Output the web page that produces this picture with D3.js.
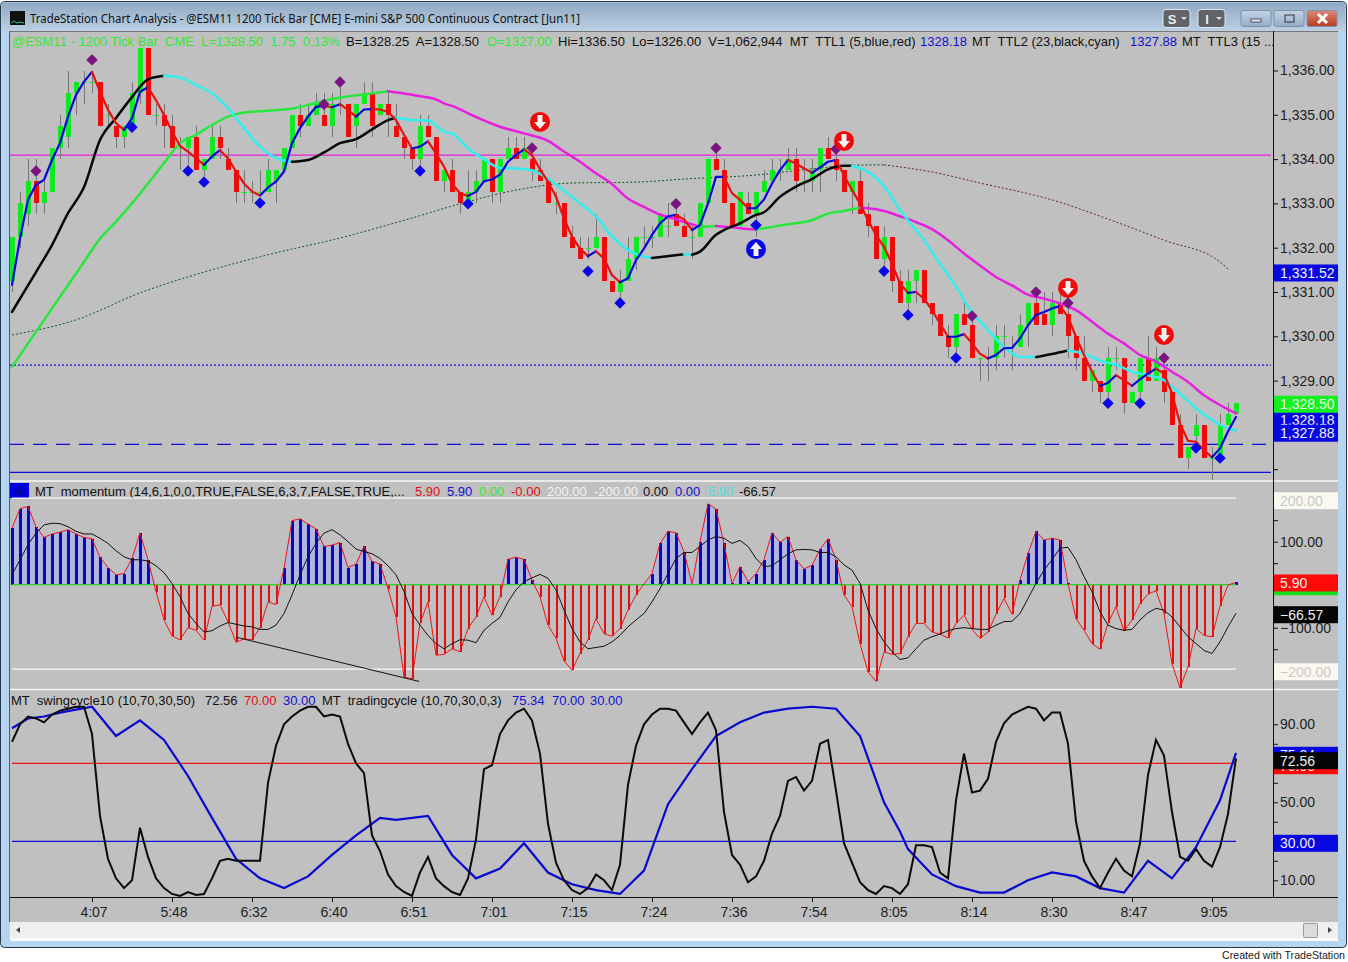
<!DOCTYPE html>
<html>
<head>
<meta charset="utf-8">
<script src="https://d3js.org/d3.v7.min.js"></script>
<style>
body { margin: 0; background: #fff; }
svg { display: block; }
text { font-family: "Liberation Sans", Arial, sans-serif; }
</style>
</head>
<body>
<svg width="1348" height="962"></svg>
<script>

// price bars, one entry per bar
var opens = [1331.25,1332.25,1332.75,1333.5,1333,1333.25,1334.25,1334.5,1335.5,1335.75,1335.75,1335.75,1335,1334.75,1334.5,1334.75,1335.5,1336.5,1335,1335,1334.75,1334.25,1334.25,1334.5,1333.75,1334,1334.5,1334,1333.75,1333.25,1333.25,1333.25,1333.25,1333.5,1333.75,1334.25,1335,1334.75,1335,1335,1334.75,1335.25,1335.25,1334.75,1335.25,1335.5,1335,1335.25,1334.75,1334.5,1334.25,1334,1334.75,1334.5,1333.5,
  1333.75,1333.25,1333,1333.25,1333.5,1334,1333.25,1334,1334.25,1334,1334,1333.75,1333.5,1333,1333,1332.25,1332,1332,1332,1332.25,1331.25,1331,1331.25,1331.75,1332.25,1332.25,1332.25,1332.5,1332.75,1332.5,1332.25,1332.25,1333,1334,1333.75,1333,1332.5,1333,1332.75,1333.25,1333.5,1333.75,1333.75,1334,1333.5,1333.5,1333.75,1334.25,1334,1333.75,1333.25,1333.5,1332.75,1332.5,1331.75,1332.25,
  1331.25,1330.75,1331.25,1331.5,1330.75,1330.5,1330,1329.75,1330.5,1330.25,1329.5,1329.5,1329.5,1330,1329.75,1329.75,1330.25,1330.75,1330.5,1330.25,1330.75,1330.5,1330,1329.5,1329,1329,1328.75,1329.5,1329.5,1328.5,1328.75,1329.5,1329,1329.25,1328.75,1328,1327.25,1327.75,1328,1327.25,1327.25,1328,1328.25];
var closes = [1332.25,1333,1333.5,1333,1333.25,1334.25,1334.75,1335.5,1335.75,1335.75,1335.75,1334.75,1335,1334.5,1334.75,1335.5,1336.5,1335,1335,1334.75,1334.25,1334.25,1334.5,1333.75,1334,1334.5,1334.25,1333.75,1333.25,1333.25,1333.25,1333.25,1333.75,1333.75,1334.25,1335,1334.75,1335,1335.25,1334.75,1335.25,1335.25,1334.5,1335.25,1335.5,1334.75,1335.25,1335,1334.5,1334.25,1334,1334.75,1334.5,1333.5,1333.75,
  1333.25,1333,1333.25,1333.5,1334,1333.25,1334,1334.25,1334,1334.25,1333.75,1333.5,1333,1333,1332.25,1332,1331.75,1332,1332.25,1331.25,1331,1331.25,1331.75,1332.25,1332.25,1332.25,1332.75,1332.5,1332.5,1332.25,1332.25,1333,1334,1333.75,1333,1332.5,1333.25,1332.75,1333.25,1333.5,1333.75,1333.75,1334,1333.5,1333.5,1333.75,1334.25,1334,1333.75,1333.25,1333.5,1332.75,1332.5,1331.75,1332.25,1331.25,
  1330.75,1331.25,1331.5,1330.75,1330.5,1330,1329.75,1330.5,1330.25,1329.5,1329.5,1329.5,1330,1330,1329.75,1330.25,1330.75,1330.25,1330.25,1330.75,1330.5,1330,1329.5,1329,1329.25,1328.75,1329.5,1329.5,1328.5,1328.75,1329.5,1329,1329.5,1328.75,1328,1327.25,1327.5,1328,1327.25,1327.25,1328,1328.25,1328.5];
var highs = [1332.25,1333.25,1334,1334,1333.5,1334.25,1335,1336,1335.75,1336,1336,1335.75,1335.25,1334.75,1334.75,1335.75,1336.5,1336.5,1335.25,1335.25,1335,1334.5,1334.5,1334.75,1334,1334.75,1334.75,1334.25,1333.75,1333.75,1333.5,1333.75,1334,1333.75,1334.25,1335,1335.25,1335.25,1335.5,1335.5,1335.5,1335.75,1335.25,1335.25,1335.75,1335.75,1335.25,1335.5,1335.25,1334.5,1334.25,1335,1335,1334.5,1333.75,
  1334,1333.25,1333.75,1333.75,1334,1334,1334,1334.5,1334.5,1334.5,1334.25,1334,1333.5,1333.25,1333,1332.5,1332.25,1332.25,1332.75,1332.25,1331.25,1331.5,1332.25,1332.25,1332.5,1332.5,1332.75,1333,1333,1332.75,1332.5,1333,1334,1334.25,1334,1333,1333.25,1333.25,1333.25,1333.75,1334,1334,1334.25,1334.25,1334,1334,1334.25,1334.5,1334.25,1333.75,1333.5,1333.75,1333,1332.5,1332.5,1332.25,
  1331.5,1331.5,1331.5,1331.5,1330.75,1330.5,1330.25,1330.5,1330.75,1330.5,1329.5,1329.75,1330.25,1330.25,1330,1330.5,1330.75,1331,1331,1331,1331,1330.75,1330,1330,1329.25,1329,1329.75,1329.75,1329.5,1328.75,1329.5,1330,1329.75,1329.5,1328.75,1328.25,1327.5,1328.25,1328,1327.5,1328.25,1328.5,1328.5];
var lows = [1331,1332,1332.5,1332.75,1332.75,1333.25,1334,1334.25,1335,1335.25,1335.5,1334.75,1334.75,1334.25,1334.25,1334.75,1335.25,1335,1334.75,1334.25,1334.25,1333.75,1333.75,1333.75,1333.5,1334,1334,1333.75,1333,1333,1333,1333.25,1333.25,1333,1333.75,1334.25,1334.5,1334.75,1335,1334.75,1334.5,1335,1334.5,1334.25,1335.25,1334.5,1335,1334.5,1334.5,1334,1333.75,1333.75,1334.5,1333.5,1333.25,
  1333.25,1332.75,1333,1333,1333.5,1333,1333,1334,1334,1334,1333.5,1333.5,1333,1332.75,1332.25,1332,1331.75,1331.75,1332,1331.25,1331,1330.75,1331.25,1331.5,1332,1332,1332.25,1332.25,1332.5,1332.25,1331.75,1332.25,1333,1333.75,1333,1332.5,1332.5,1332.75,1332.25,1333.25,1333.5,1333.5,1333.75,1333.25,1333.25,1333.25,1333.25,1334,1333.5,1333.25,1332.75,1332.75,1332.25,1331.75,1331.5,1331,
  1330.75,1330.5,1330.75,1330.75,1330.25,1330,1329.5,1329.5,1330.25,1329.5,1329,1329,1329.25,1329.5,1329.25,1329.75,1329.75,1330.25,1330.25,1330,1330.5,1329.5,1329.25,1329,1328.75,1328.5,1328.5,1329.25,1328.25,1328.5,1328.5,1329,1329,1328.5,1328,1327.25,1327,1327.5,1327.25,1326.75,1327.25,1328,1328.25];

// TTL1 (5, blue, red), every bar
var ttl1 = [1331.16,1332.21,1333.08,1333.42,1333.53,1333.98,1334.36,1334.96,1335.45,1335.75,1335.97,1335.52,1335.11,1334.81,1334.66,1334.92,1335.52,1335.62,1335.33,1335,1334.62,1334.3,1334.17,1334.02,1333.87,1334.06,1334.2,1334.02,1333.72,1333.45,1333.27,1333.18,1333.36,1333.49,1333.72,1334.36,1334.7,1334.96,1335.18,1335.2,1335.17,1335.24,1335.11,1334.96,1335.12,1335.13,1335.12,1335.07,1334.88,1334.55,1334.24,1334.28,1334.4,1334.13,1333.83,
  1333.45,1333.23,1333.17,1333.26,1333.5,1333.54,1333.65,1333.94,1334.09,1334.22,1334.09,1333.77,1333.49,1333.15,1332.66,1332.25,1331.98,1331.81,1331.92,1331.76,1331.38,1331.22,1331.31,1331.72,1331.98,1332.29,1332.55,1332.71,1332.74,1332.64,1332.4,1332.51,1333,1333.6,1333.6,1333.23,1333.08,1332.89,1332.89,1333.09,1333.45,1333.75,1333.98,1333.9,1333.79,1333.69,1333.81,1333.94,1333.98,1333.64,1333.3,1333,1332.62,1332.29,1332.02,1331.64,
  1331.19,1330.98,1331,1330.85,1330.59,1330.29,1329.99,1329.99,1330.05,1329.84,1329.61,1329.5,1329.58,1329.73,1329.74,1329.95,1330.25,1330.48,1330.55,1330.63,1330.68,1330.44,1329.99,1329.58,1329.2,1328.88,1328.95,1329.12,1329.01,1328.88,1329.03,1329.16,1329.27,1329.16,1328.71,1328.03,1327.64,1327.62,1327.43,1327.27,1327.47,1327.85,1328.18];

// TTL2 (23, black, cyan), read at these bars
var ttl2Bars = [0,3,5,7,9,11,13,15,17,19,21,23,25,27,29,31,33,35,37,39,41,43,45,47,48,50,52,54,55,57,59,61,63,65,67,69,71,73,75,77,79,80,84,85,86,88,89,91,93,94,96,98,100,102,104,105,107,109,111,114,116,118,120,122,124,126,128,130,132,134,136,138,140,142,144,146,148,150,152,153];
var ttl2Values = [1330.55,1331.45,1332.06,1332.78,1333.37,1334.43,1334.93,1335.4,1335.8,1335.88,1335.84,1335.67,1335.48,1335.15,1334.7,1334.28,1334.02,1333.94,1333.98,1334.15,1334.36,1334.45,1334.67,1334.88,1334.94,1334.88,1334.87,1334.62,1334.58,1334.24,1334,1333.8,1333.79,1333.75,1333.56,1333.29,1333,1332.7,1332.26,1331.95,1331.8,1331.77,1331.85,1331.84,1331.91,1332.29,1332.4,1332.55,1332.74,1332.8,1333.15,1333.38,1333.55,1333.77,1333.85,1333.85,1333.71,1333.39,1332.85,1332.17,1331.64,1331.12,1330.55,1330.14,1329.76,1329.54,1329.53,1329.6,1329.68,1329.61,1329.45,1329.36,1329.2,1329.12,1329.01,1328.7,1328.37,1328.11,1327.92,1327.88];

// TTL3 (green, magenta), read at these bars
var ttl3Bars = [0,3,6,9,11,13,15,17,19,21,23,25,27,29,32,35,38,41,44,47,49,51,53,54,55,58,61,64,67,69,71,73,75,77,79,81,83,85,86,88,90,92,93,95,97,100,102,104,106,107,109,111,113,115,117,119,121,123,125,127,129,131,133,135,137,139,141,143,145,147,149,151,153];
var ttl3Values = [1329.31,1330.1,1330.89,1331.68,1332.2,1332.59,1333,1333.45,1333.91,1334.36,1334.55,1334.77,1334.96,1335.05,1335.09,1335.14,1335.27,1335.39,1335.46,1335.53,1335.48,1335.42,1335.35,1335.26,1335.2,1334.95,1334.73,1334.58,1334.41,1334.17,1333.94,1333.68,1333.44,1333.11,1332.92,1332.75,1332.64,1332.53,1332.47,1332.49,1332.46,1332.42,1332.41,1332.47,1332.53,1332.62,1332.77,1332.83,1332.9,1332.89,1332.83,1332.71,1332.58,1332.42,1332.17,1331.87,1331.6,1331.34,1331.15,1330.94,1330.85,1330.74,1330.59,1330.33,1330.06,1329.84,1329.58,1329.43,1329.2,1328.97,1328.67,1328.45,1328.26];

// dotted slow average
var slowBars = [0,8,16,24,32,41,50,56,63,70,78,84,93,100,105,109,115,121,130,138,144,151,152];
var slowValues = [1330.03,1330.37,1330.98,1331.45,1331.84,1332.22,1332.67,1332.99,1333.3,1333.46,1333.48,1333.55,1333.64,1333.78,1333.86,1333.87,1333.71,1333.46,1333.08,1332.58,1332.17,1331.68,1331.52];

// horizontal price levels
var magentaLevel = 1334.09, dottedLevel = 1329.35, dashedLevel = 1327.56, solidLevel = 1326.93;

// swing markers
var purpleBars = [3,10,39,41,65,83,88,103,120,128,132,144];
var purplePrices = [1333.73,1336.24,1335.24,1335.74,1334.25,1332.99,1334.25,1334.23,1330.46,1331,1330.75,1329.51];
var blueBars = [15,22,24,31,51,57,72,76,93,109,112,118,137,141,148,151];
var bluePrices = [1334.72,1333.73,1333.48,1333.01,1333.73,1332.99,1331.47,1330.75,1332.51,1331.47,1330.48,1329.51,1328.49,1328.49,1327.48,1327.25];
var downBars = [66,104,132,144];
var downPrices = [1334.84,1334.41,1331.09,1330.03];
var upBars = [93];
var upPrices = [1331.97];

// momentum panel
var momentum = [132,177,182,135,110,118,122,128,118,110,107,64,40,23,26,61,120,58,-16,-82,-119,-128,-100,-106,-129,-50,-47,-86,-134,-126,-128,-100,-40,-46,38,149,153,141,130,89,92,98,40,48,89,54,48,-9,-75,-215,-219,-90,-40,-164,-162,
  -149,-156,-102,-75,-28,-71,-28,59,64,59,11,-28,-94,-125,-177,-199,-160,-128,-79,-114,-120,-102,-59,-24,2,26,96,124,121,77,2,100,188,176,96,3,42,7,26,58,121,99,112,58,37,45,82,107,58,-24,-51,-137,-203,-225,-156,-162,
  -160,-121,-90,-90,-110,-115,-124,-90,-71,-104,-125,-110,-69,-32,-69,11,73,124,104,108,104,3,-79,-106,-137,-150,-90,-51,-108,-82,-44,-22,-14,-67,-184,-240,-191,-102,-118,-121,-50,-1,5.9];
var momentumAvg = [23,58,93,120,139,143,142,135,124,118,118,108,96,79,65,58,58,55,44,28,3,-28,-67,-90,-110,-107,-96,-88,-92,-96,-98,-104,-104,-94,-67,-24,23,65,96,120,128,116,100,83,77,72,61,44,23,-16,-67,-94,-118,-137,-149,
  -137,-128,-129,-135,-106,-90,-76,-40,-12,7,16,24,15,-12,-59,-102,-133,-149,-146,-143,-133,-118,-98,-82,-67,-40,-9,26,61,75,75,89,104,112,108,96,103,89,61,42,44,58,72,81,82,81,75,75,65,46,34,3,-59,-102,-133,-156,
  -174,-170,-149,-129,-121,-115,-107,-102,-100,-102,-104,-104,-94,-86,-85,-67,-32,3,34,58,85,87,58,19,-16,-63,-94,-102,-106,-104,-82,-65,-55,-59,-75,-98,-121,-137,-153,-160,-133,-98,-66.57];
var trendBars = [28,50.9];
var trendValues = [-122,-225];

// cycle panel
var swing = [81,90,94,93,91,95,97,98,99,99,85,43,21,11,6,10,37,22,11,6,3,2,4,2.5,3,11,20,21,20,20,20,20,60,79,90,94,97,99,99,94,95,94,80,70,65,33,25,13,7,4,2,14,22,11,7,
  4,2.5,11,31,67,69,85,92,96,98,92,75,39,19,10,5,3,6,13,10,5,18,59,79,90,95,98,98,97,91,85,91,96,87,45,23,18,9,12,20,34,43,61,63,56,61,80,82,56,29,19,9,5,3,7,6,
  3,8,28,28,27,14,11,51,75,55,56,62,81,90.5,95,97,99,98,92,96,96,80,40,20,12,6,14,21,15,12,29,64,82,74,45,22,20,26,20,17,27,44,72.56];
var tradingBars = [0,2,4,6,10,13,16,19,22,25,28,31,34,37,40,43,46,48,52,55,56,58,61,64,67,70,73,76,79,82,85,88,91,94,97,100,103,106,109,111,112,115,118,121,124,127,130,133,136,139,142,145,148,151,153];
var tradingValues = [88,93,94,96,99,84,92,82,63.5,42,21,11,6,12,23,33,42,41,43,23,19,11,16,29,14,8,5,3,15,49,67,84,91,96,98,99,98,84,50,35,26,13,7,3.7,3.7,10,14,12,6,3.7,20,11,27,51,75.34];

// tick labels and fixed scale labels
var timeBars = [10,20,30,40,50,60,70,80,90,100,110,120,130,140,150];
var timeLabels = ['4:07','5:48','6:32','6:40','6:51','7:01','7:15','7:24','7:36','7:54','8:05','8:14','8:30','8:47','9:05'];
var priceTicks = [1336,1335,1334,1333,1332,1331,1330,1329,1328,1327];
var priceLabelTicks = [1336,1335,1334,1333,1332,1331,1330,1329];
var momentumTicks = [200,150,100,50,0,-50,-100,-150,-200];
var momentumLabelTicks = [100,-100];
var cycleTicks = [90,80,70,60,50,40,30,20,10];
var cycleLabelTicks = [90,50,10];

var title = 'TradeStation Chart Analysis - @ESM11 1200 Tick Bar [CME] E-mini S&P 500 Continuous Contract [Jun11]';

var svg = d3.select('svg');
var plotLeft = 10, plotRight = 1273, frameRight = 1338;

var xScale = d3.scaleLinear().domain([0, 153]).range([12, 1236]);
var yPrice = d3.scaleLinear().domain([1336, 1329]).range([70.5, 380.6]);
var yMom = d3.scaleLinear().domain([200, -200]).range([498.7, 670.7]);
var yCycle = d3.scaleLinear().domain([70, 30]).range([763.3, 841.3]);

var fmtPrice = d3.format(',.2f');
var fmt2 = d3.format('.2f');

// window frame
var defs = svg.append('defs');
var grad = defs.append('linearGradient').attr('id', 'titlebar').attr('x1', 0).attr('x2', 0).attr('y1', 0).attr('y2', 1);
grad.append('stop').attr('offset', '0%').attr('stop-color', '#90a9c3');
grad.append('stop').attr('offset', '100%').attr('stop-color', '#bcd0e3');
var btn = defs.append('linearGradient').attr('id', 'winbtn').attr('x1', 0).attr('x2', 0).attr('y1', 0).attr('y2', 1);
btn.append('stop').attr('offset', '0%').attr('stop-color', '#c3d3e4');
btn.append('stop').attr('offset', '100%').attr('stop-color', '#94acc6');
var closeBtn = defs.append('linearGradient').attr('id', 'closebtn').attr('x1', 0).attr('x2', 0).attr('y1', 0).attr('y2', 1);
closeBtn.append('stop').attr('offset', '0%').attr('stop-color', '#d98a78');
closeBtn.append('stop').attr('offset', '100%').attr('stop-color', '#b83a22');
defs.append('clipPath').attr('id', 'cycleclip').append('rect').attr('x', plotLeft).attr('y', 690).attr('width', plotRight - plotLeft).attr('height', 207);

svg.append('rect').attr('x', 0.5).attr('y', 1.5).attr('width', 1346).attr('height', 946).attr('rx', 4).attr('fill', '#b5d5f0').attr('stroke', '#23394d');
svg.append('rect').attr('x', 1.5).attr('y', 2.5).attr('width', 1344).attr('height', 29).attr('fill', 'url(#titlebar)');
svg.append('rect').attr('x', plotLeft).attr('y', 31).attr('width', frameRight - plotLeft).attr('height', 891).attr('fill', '#c0c0c0');
svg.append('line').attr('x1', 9.5).attr('x2', 9.5).attr('y1', 31).attr('y2', 922).attr('stroke', '#555');
svg.append('line').attr('x1', 9.5).attr('x2', frameRight).attr('y1', 31.5).attr('y2', 31.5).attr('stroke', '#777');

// icon, title, buttons
svg.append('rect').attr('x', 10).attr('y', 11).attr('width', 15).attr('height', 14).attr('fill', '#101010');
svg.append('path').attr('d', 'M11 23 L14 21 L17 23 L20 22 L24 23').attr('fill', 'none').attr('stroke', '#3c8');
svg.append('text').attr('x', 30).attr('y', 23).attr('font-size', 13).attr('fill', '#111')
  .style('font-family', '"Noto Sans", sans-serif')
  .attr('textLength', 550).attr('lengthAdjust', 'spacingAndGlyphs').text(title);

[[1163, 'S'], [1198, 'I']].forEach(function (b) {
  svg.append('rect').attr('x', b[0]).attr('y', 9.5).attr('width', 27).attr('height', 18).attr('rx', 3)
    .attr('fill', '#606468').attr('stroke', '#dfe6ee');
  svg.append('text').attr('x', b[0] + 9).attr('y', 24).attr('text-anchor', 'middle').attr('font-size', 13)
    .attr('font-weight', 'bold').attr('fill', '#eee').text(b[1]);
  svg.append('path').attr('d', 'M' + (b[0] + 18) + ' 17 h6 l-3 3 z').attr('fill', '#ddd');
});
[[1241, 'url(#winbtn)'], [1274, 'url(#winbtn)'], [1307, 'url(#closebtn)']].forEach(function (b) {
  svg.append('rect').attr('x', b[0]).attr('y', 10.5).attr('width', 30).attr('height', 16).attr('rx', 2)
    .attr('fill', b[1]).attr('stroke', '#7d93ab');
});
svg.append('rect').attr('x', 1251).attr('y', 19).attr('width', 10).attr('height', 3).attr('fill', '#e4e9ef').attr('stroke', '#556');
svg.append('rect').attr('x', 1285).attr('y', 15).attr('width', 9).attr('height', 7).attr('fill', 'none').attr('stroke', '#333');
svg.append('path').attr('d', 'M1318 14 L1327 23 M1327 14 L1318 23').attr('stroke', '#fff').attr('stroke-width', 3);

// header legends
function legend(y, parts) {
  parts.forEach(function (p) {
    svg.append('text').attr('x', p[0]).attr('y', y).attr('font-size', 13).attr('fill', p[2])
      .style('white-space', 'pre').text(p[1]);
  });
}
legend(46, [
  [12, '@ESM11 - 1200 Tick Bar  CME  L=1328.50  1.75  0.13%', '#33e833'],
  [346, 'B=1328.25  A=1328.50', '#111'],
  [487, 'O=1327.00', '#33e833'],
  [558, 'Hi=1336.50  Lo=1326.00  V=1,062,944  MT  TTL1 (5,blue,red)', '#111'],
  [920, '1328.18', '#1010d0'],
  [972, 'MT  TTL2 (23,black,cyan)', '#111'],
  [1130, '1327.88', '#1010d0'],
  [1182, 'MT  TTL3 (15 ...', '#111']
]);
svg.append('rect').attr('x', 10).attr('y', 483).attr('width', 19).attr('height', 15).attr('fill', '#0000e0');
svg.append('text').attr('x', 15).attr('y', 496).attr('font-size', 13).attr('fill', '#0a0a60').text('A');
legend(496, [
  [35, 'MT  momentum (14,6,1,0,0,TRUE,FALSE,6,3,7,FALSE,TRUE,...', '#111'],
  [415, '5.90', '#e01010'], [447, '5.90', '#1010d0'], [479, '0.00', '#33e833'], [511, '-0.00', '#e01010'],
  [547, '200.00', '#f4f4f4'], [594, '-200.00', '#f4f4f4'], [643, '0.00', '#111'], [675, '0.00', '#1010d0'],
  [708, '5.90', '#44e0e0'], [739, '-66.57', '#111']
]);
legend(705, [
  [11, 'MT  swingcycle10 (10,70,30,50)', '#111'],
  [205, '72.56', '#111'], [244, '70.00', '#e01010'], [283, '30.00', '#1010d0'],
  [322, 'MT  tradingcycle (10,70,30,0,3)', '#111'],
  [512, '75.34', '#1010d0'], [552, '70.00', '#1010d0'], [590, '30.00', '#1010d0']
]);

// panel separators
[481, 689.5].forEach(function (y) {
  svg.append('line').attr('x1', plotLeft).attr('x2', frameRight).attr('y1', y).attr('y2', y)
    .attr('stroke', '#f8f8f8').attr('stroke-width', 1.3);
});

// horizontal price levels
function hline(y, color, dash) {
  svg.append('line').attr('x1', plotLeft).attr('x2', plotRight - 2).attr('y1', y).attr('y2', y)
    .attr('stroke', color).attr('stroke-width', 1.3).attr('stroke-dasharray', dash);
}
hline(yPrice(magentaLevel), '#e81ce0', null);
hline(yPrice(dottedLevel), '#1010d8', '2,2');
hline(yPrice(dashedLevel), '#1010d8', '14,9');
hline(yPrice(solidLevel), '#1010d8', null);

// line drawn in runs, one colour while rising, another while falling
function slopeLine(bars, values, scale, upColor, downColor, width, dash, curve) {
  var runs = [];
  d3.range(bars.length - 1).forEach(function (i) {
    var up = values[i + 1] >= values[i];
    var last = runs[runs.length - 1];
    if (last && last.up === up) {
      last.pts.push(i + 1);
    } else {
      runs.push({ up: up, pts: [i, i + 1] });
    }
  });
  var line = d3.line()
    .x(function (i) { return xScale(bars[i]); })
    .y(function (i) { return scale(values[i]); })
    .curve(curve);
  svg.append('g').selectAll('path').data(runs).enter().append('path')
    .attr('d', function (r) { return line(r.pts); })
    .attr('fill', 'none')
    .attr('stroke', function (r) { return r.up ? upColor : downColor; })
    .attr('stroke-width', width)
    .attr('stroke-linecap', dash ? 'butt' : 'round')
    .attr('stroke-linejoin', 'round')
    .attr('stroke-dasharray', dash);
}

slopeLine(slowBars, slowValues, yPrice, '#0c5a1c', '#6a1a5a', 1, '2,2', d3.curveMonotoneX);

// bars
var barIdx = d3.range(opens.length);
var bars = svg.append('g').attr('shape-rendering', 'crispEdges');
bars.selectAll('line.wick').data(barIdx).enter().append('line').attr('class', 'wick')
  .attr('x1', function (d) { return xScale(d) + 0.5; })
  .attr('x2', function (d) { return xScale(d) + 0.5; })
  .attr('y1', function (d) { return yPrice(highs[d]); })
  .attr('y2', function (d) { return yPrice(lows[d]); })
  .attr('stroke', '#777').attr('stroke-width', 1);
bars.selectAll('rect').data(barIdx).enter().append('rect')
  .attr('x', function (d) { return xScale(d) - 2; })
  .attr('width', 5)
  .attr('y', function (d) { return yPrice(Math.max(opens[d], closes[d])); })
  .attr('height', function (d) { return Math.max(1, Math.abs(yPrice(opens[d]) - yPrice(closes[d]))); })
  .attr('fill', function (d) { return closes[d] >= opens[d] ? '#10e822' : '#f00a0a'; });

slopeLine(ttl3Bars, ttl3Values, yPrice, '#26e83c', '#e81ee0', 2.5, null, d3.curveMonotoneX);
slopeLine(ttl2Bars, ttl2Values, yPrice, '#080808', '#33eeee', 2.5, null, d3.curveMonotoneX);
slopeLine(barIdx, ttl1, yPrice, '#0808d8', '#e81010', 2.2, null, d3.curveLinear);

// swing markers, square turned on its corner
function diamonds(barsIn, prices, color) {
  svg.append('g').selectAll('path').data(barsIn).enter().append('path')
    .attr('d', d3.symbol().type(d3.symbolSquare).size(44))
    .attr('transform', function (d, i) { return 'translate(' + xScale(d) + ',' + yPrice(prices[i]) + ') rotate(45)'; })
    .attr('fill', color).attr('stroke', color).attr('stroke-width', 1.5).attr('stroke-linejoin', 'round');
}
diamonds(purpleBars, purplePrices, '#7a1580');
diamonds(blueBars, bluePrices, '#0808e8');

// arrow badges
function badges(barsIn, prices, color, up) {
  var g = svg.append('g').selectAll('g').data(barsIn).enter().append('g')
    .attr('transform', function (d, i) { return 'translate(' + xScale(d) + ',' + yPrice(prices[i]) + ')'; });
  g.append('circle').attr('r', 10).attr('fill', color);
  g.append('path')
    .attr('d', up ? 'M0 -7 L6 0 L2.5 0 L2.5 7 L-2.5 7 L-2.5 0 L-6 0 Z' : 'M0 7 L6 0 L2.5 0 L2.5 -7 L-2.5 -7 L-2.5 0 L-6 0 Z')
    .attr('fill', '#f2f2f2');
}
badges(downBars, downPrices, '#f00a0a', false);
badges(upBars, upPrices, '#0808e8', true);

// momentum panel
[200, -200].forEach(function (v) {
  svg.append('line').attr('x1', 12).attr('x2', 1236).attr('y1', yMom(v) - (v > 0 ? 0.5 : 1.5)).attr('y2', yMom(v) - (v > 0 ? 0.5 : 1.5))
    .attr('stroke', '#f8f8f8').attr('stroke-width', 1.3);
});
var momArea = d3.area()
  .x(function (d) { return xScale(d); })
  .y0(yMom(0))
  .y1(function (d) { return yMom(Math.max(momentum[d], 0)); });
svg.append('path').datum(barIdx).attr('d', momArea).attr('fill', '#b2b5dd');
svg.append('g').attr('shape-rendering', 'crispEdges').selectAll('line').data(barIdx).enter().append('line')
  .attr('x1', function (d) { return xScale(d) + 0.5; })
  .attr('x2', function (d) { return xScale(d) + 0.5; })
  .attr('y1', yMom(0))
  .attr('y2', function (d) { return yMom(momentum[d]); })
  .attr('stroke', function (d) { return momentum[d] >= 0 ? '#0808b8' : '#e01010'; })
  .attr('stroke-width', function (d) { return momentum[d] >= 0 ? 3 : 2; });
svg.append('line').attr('x1', 12).attr('x2', 1236).attr('y1', yMom(0)).attr('y2', yMom(0))
  .attr('stroke', '#30d028').attr('stroke-width', 1.3);
var momLine = d3.line().x(function (d) { return xScale(d); }).y(function (d) { return yMom(momentum[d]); });
var avgLine = d3.line().x(function (d) { return xScale(d); }).y(function (d) { return yMom(momentumAvg[d]); });
svg.append('path').datum(barIdx).attr('d', momLine).attr('fill', 'none').attr('stroke', '#f01414').attr('stroke-width', 1);
svg.append('path').datum(barIdx).attr('d', avgLine).attr('fill', 'none').attr('stroke', '#111').attr('stroke-width', 1);
svg.append('line').attr('x1', xScale(trendBars[0])).attr('x2', xScale(trendBars[1]))
  .attr('y1', yMom(trendValues[0])).attr('y2', yMom(trendValues[1])).attr('stroke', '#111');

// cycle panel
svg.append('line').attr('x1', 12).attr('x2', 1236).attr('y1', yCycle(70)).attr('y2', yCycle(70)).attr('stroke', '#f01414').attr('stroke-width', 1.3);
svg.append('line').attr('x1', 12).attr('x2', 1236).attr('y1', yCycle(30)).attr('y2', yCycle(30)).attr('stroke', '#1010d8').attr('stroke-width', 1.3);
var cyc = svg.append('g').attr('clip-path', 'url(#cycleclip)');
var swingLine = d3.line().x(function (d) { return xScale(d); }).y(function (d) { return yCycle(swing[d]); });
var tradingLine = d3.line().x(function (d) { return xScale(tradingBars[d]); }).y(function (d) { return yCycle(tradingValues[d]); });
cyc.append('path').datum(d3.range(tradingBars.length)).attr('d', tradingLine).attr('fill', 'none').attr('stroke', '#0808d0').attr('stroke-width', 2.2);
cyc.append('path').datum(barIdx).attr('d', swingLine).attr('fill', 'none').attr('stroke', '#0a0a0a').attr('stroke-width', 2);

// right scale
svg.append('line').attr('x1', plotRight).attr('x2', plotRight).attr('y1', 31).attr('y2', 897).attr('stroke', '#111').attr('shape-rendering', 'crispEdges');

function rightAxis(scale, ticks, labels, fmt) {
  var axis = d3.axisRight(scale).tickValues(ticks).tickSize(5).tickPadding(2)
    .tickFormat(function (d) { return labels.indexOf(d) >= 0 ? fmt(d) : ''; });
  var g = svg.append('g').attr('transform', 'translate(' + plotRight + ',0)').call(axis);
  g.select('.domain').remove();
  g.selectAll('line').attr('stroke', '#111');
  g.selectAll('text').attr('font-size', 14).attr('fill', '#222')
    .style('font-family', '"Liberation Sans", Arial, sans-serif');
}
rightAxis(yPrice, priceTicks, priceLabelTicks, fmtPrice);
rightAxis(yMom, momentumTicks, momentumLabelTicks, fmt2);
rightAxis(yCycle, cycleTicks, cycleLabelTicks, fmt2);

function box(y, fill, textFill, label) {
  svg.append('rect').attr('x', plotRight + 1).attr('y', y - 8.5).attr('width', frameRight - plotRight - 1).attr('height', 17).attr('fill', fill);
  if (label) {
    svg.append('text').attr('x', 1280).attr('y', y + 5).attr('font-size', 14).attr('fill', textFill).text(label);
  }
}
box(yPrice(1331.52) + 4, '#0808e0', '#f0f0f0', fmtPrice(1331.52));
box(yPrice(1328.18) + 3.5, '#0808e0', '#f0f0f0', fmtPrice(1328.18));
box(yPrice(1327.88) + 3, '#0808e0', '#f0f0f0', fmtPrice(1327.88));
box(yPrice(1328.5) + 1.5, '#14f01e', '#e8f8e8', fmtPrice(1328.5));

box(yMom(200) + 2, '#fbf8f0', '#c8c8c8', fmt2(200));
box(yMom(-200) + 1, '#fbf8f0', '#c8c8c8', fmt2(-200));
box(yMom(0) + 2, '#14e01e', null, null);
box(yMom(5.9) + 0.8, '#ff0808', '#f0f0f0', fmt2(5.9));
box(yMom(-66.57) + 1.4, '#050505', '#f0f0f0', fmt2(-66.57));

box(yCycle(75.34) + 2.4, '#0808e0', '#f0f0f0', fmt2(75.34));
box(yCycle(70) + 2.4, '#ff0808', '#f0f0f0', fmt2(70));
box(yCycle(72.56) + 2.4, '#050505', '#f0f0f0', fmt2(72.56));
box(yCycle(30) + 2, '#0808e0', '#f0f0f0', fmt2(30));

// time axis
var timeAxis = d3.axisBottom(xScale).tickValues(timeBars).tickSize(5).tickPadding(5)
  .tickFormat(function (d, i) { return timeLabels[i]; });
var tg = svg.append('g').attr('transform', 'translate(0,897)').call(timeAxis);
tg.select('.domain').remove();
tg.selectAll('line').attr('stroke', '#111');
tg.selectAll('text').attr('font-size', 14).attr('fill', '#222').attr('dx', 1.5)
  .style('font-family', '"Liberation Sans", Arial, sans-serif');
svg.append('line').attr('x1', plotLeft).attr('x2', frameRight).attr('y1', 897.5).attr('y2', 897.5).attr('stroke', '#111');

// scroll bar
svg.append('rect').attr('x', plotLeft).attr('y', 922).attr('width', frameRight - plotLeft).attr('height', 16).attr('fill', '#efefef');
svg.append('rect').attr('x', plotLeft).attr('y', 938).attr('width', frameRight - plotLeft).attr('height', 3).attr('fill', '#fafafa');
svg.append('rect').attr('x', 1303.5).attr('y', 923.5).attr('width', 14).attr('height', 14).attr('rx', 1).attr('fill', '#dcdcdc').attr('stroke', '#999');
svg.append('path').attr('d', 'M16 930 l4 -3 v6 z').attr('fill', '#444');
svg.append('path').attr('d', 'M1332 930 l-4 -3 v6 z').attr('fill', '#444');

svg.append('text').attr('x', 1345).attr('y', 958.5).attr('text-anchor', 'end').attr('font-size', 11.5).attr('fill', '#222')
  .attr('textLength', 123).attr('lengthAdjust', 'spacingAndGlyphs').text('Created with TradeStation');

</script>
</body>
</html>
